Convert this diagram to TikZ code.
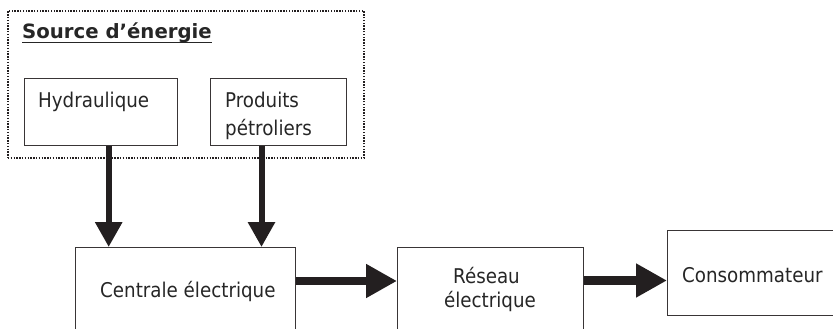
\documentclass[tikz,border=0pt]{standalone}
\usepackage{fontspec}
\setmainfont{DejaVu Sans Condensed}
\newfontfamily\titlefont{DejaVu Sans}
\usetikzlibrary{arrows.meta}
\definecolor{ink}{HTML}{231F20}
\definecolor{txt}{HTML}{262626}
\tikzset{
  box/.style={draw=ink!90, line width=1.1pt, inner sep=0pt, anchor=north west},
  group/.style={draw=ink, line width=1.8pt, dash pattern=on 1.4pt off 1.4pt, inner sep=0pt, anchor=north west},
  lbl/.style={inner sep=0pt, anchor=base west, text=txt, font=\fontsize{20.3}{24}\selectfont},
  varrow/.style={draw=ink, line width=6pt, -{Triangle[length=25pt,width=26pt]}},
  harrow/.style={draw=ink, line width=8.5pt, -{Triangle[length=31pt,width=32pt]}},
}
\begin{document}
\begin{tikzpicture}[x=1pt,y=-1pt]
\useasboundingbox (0,0) rectangle (833,329);
\clip (0,0) rectangle (833,329);

% energy sources group
\node[group, minimum width=356pt, minimum height=147pt] (src) at (7,10) {};
\node[inner sep=0pt, anchor=base west, text=txt, font=\titlefont\bfseries\fontsize{19.7}{24}\selectfont] (title) at (22,39) {Source d’énergie};
\draw[txt, line width=1.5pt] ([yshift=-3.5pt]title.base west) -- ([yshift=-3.5pt]title.base east);

\node[box, minimum width=153pt, minimum height=67pt] (hyd) at (24,78) {};
\node[box, minimum width=136pt, minimum height=67pt] (pet) at (210,78) {};
\node[lbl] (thyd) at (38,107) {Hydraulique};
\node[lbl] (tpet1) at (225,107) {Produits};
\node[lbl] (tpet2) at (225,135) {pétroliers};

% chain of conversion
\node[box, minimum width=220pt, minimum height=110pt] (cen) at (75,247) {};
\node[box, minimum width=186pt, minimum height=110pt] (res) at (397,247) {};
\node[box, minimum width=200pt, minimum height=85pt] (con) at (667,230) {};
\node[lbl] (tcen) at (100,297) {Centrale électrique};
\node[lbl, anchor=base] (tres1) at (486.5,283) {Réseau};
\node[lbl, anchor=base] (tres2) at (490,307) {électrique};
\node[lbl] (tcon) at (682,282) {Consommateur};

% flows
\coordinate (h0) at ([xshift=84.7pt]hyd.south west);
\coordinate (p0) at ([xshift=51.5pt]pet.south west);
\draw[varrow] (h0) -- (h0 |- cen.north);
\draw[varrow] (p0) -- (p0 |- cen.north);

\coordinate (c0) at ([yshift=-34pt]cen.north east);
\coordinate (r0) at ([yshift=-33.5pt]res.north east);
\draw[harrow] (c0) -- (c0 -| res.west);
\draw[harrow] (r0) -- (r0 -| con.west);
\end{tikzpicture}
\end{document}
